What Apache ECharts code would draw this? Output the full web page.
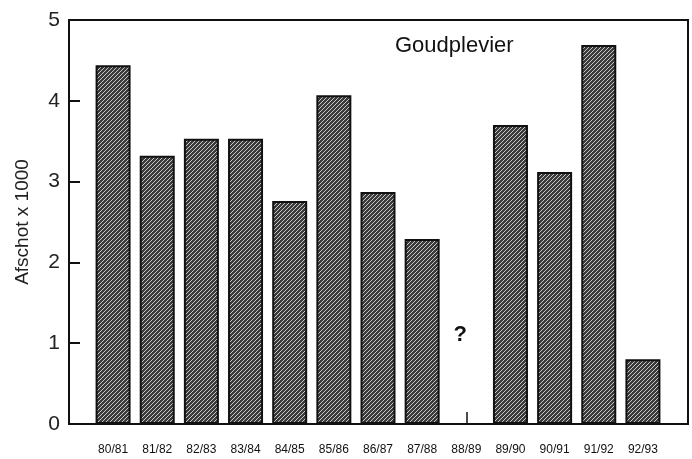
<!DOCTYPE html>
<html>
<head>
<meta charset="utf-8">
<script src="https://cdn.jsdelivr.net/npm/echarts@6/dist/echarts.min.js"></script>
<style>
  html, body { margin: 0; padding: 0; background: #fff; }
  #chart { width: 692px; height: 459px; }
</style>
</head>
<body>
<div id="chart"></div>
<script>
// seizoenen en afschot (x 1000), 88/89 onbekend
const seasons = ["80/81", "81/82", "82/83", "83/84", "84/85", "85/86", "86/87",
  "87/88", "88/89", "89/90", "90/91", "91/92", "92/93"];
const afschot = [4.44, 3.32, 3.53, 3.53, 2.76, 4.07, 2.87, 2.29, null, 3.70, 3.12, 4.69, 0.80];
const unknownSeason = ["88/89", 1.1, "?"];
const yTicks = [0, 1, 2, 3, 4, 5];

// gearceerd patroon voor de staven
function makeHatch() {
  const c = document.createElement("canvas");
  c.width = 4;
  c.height = 4;
  const ctx = c.getContext("2d");
  ctx.fillStyle = "#3a3a3a";
  ctx.fillRect(0, 0, 4, 4);
  ctx.strokeStyle = "#c8c8c8";
  ctx.lineWidth = 1;
  ctx.beginPath();
  ctx.moveTo(-1, 5);
  ctx.lineTo(5, -1);
  ctx.moveTo(-1, 1);
  ctx.lineTo(1, -1);
  ctx.moveTo(3, 5);
  ctx.lineTo(5, 3);
  ctx.stroke();
  return c;
}

const chart = echarts.init(document.getElementById("chart"));

const option = {
  animation: false,
  title: {
    text: "Goudplevier",
    left: 390,
    top: 30,
    textStyle: { fontFamily: "Liberation Sans", fontWeight: "normal", fontSize: 22, color: "#111" },
  },
  grid: [
    // kader
    { left: 69, top: 20, width: 619, height: 404, show: true, borderColor: "#111", borderWidth: 2 },
    // staven
    { left: 91, top: 20, width: 574, height: 404 },
  ],
  xAxis: [
    { gridIndex: 0, type: "value", show: false, min: 0, max: 1 },
    {
      gridIndex: 1,
      type: "category",
      data: seasons,
      axisLine: { show: false },
      axisTick: {
        show: true,
        inside: true,
        length: 12,
        alignWithLabel: true,
        interval: (i) => i === 8,
        lineStyle: { color: "#111", width: 1.5 },
      },
      axisLabel: {
        interval: 0,
        margin: 20,
        fontFamily: "Liberation Sans Narrow, Liberation Sans",
        fontSize: 12,
        color: "#111",
      },
    },
  ],
  yAxis: [
    {
      gridIndex: 0,
      type: "value",
      min: yTicks[0],
      max: yTicks[yTicks.length - 1],
      interval: 1,
      name: "Afschot x 1000",
      nameLocation: "middle",
      nameGap: 37,
      nameTextStyle: { fontFamily: "Liberation Sans", fontSize: 19, color: "#222" },
      axisLine: { show: false },
      axisTick: { show: true, inside: true, length: 11, lineStyle: { color: "#111", width: 2 } },
      splitLine: { show: false },
      axisLabel: { margin: 9, fontFamily: "Liberation Sans", fontSize: 21, color: "#222" },
    },
    { gridIndex: 1, type: "value", min: 0, max: 5, show: false },
  ],
  series: [
    {
      type: "bar",
      xAxisIndex: 1,
      yAxisIndex: 1,
      data: afschot,
      barWidth: 35,
      itemStyle: {
        color: { image: makeHatch(), repeat: "repeat" },
        borderColor: "#111",
        borderWidth: 2,
      },
    },
    {
      // vraagteken bij het ontbrekende seizoen
      type: "scatter",
      xAxisIndex: 1,
      yAxisIndex: 1,
      symbolSize: 0,
      itemStyle: { opacity: 1 },
      data: [unknownSeason],
      label: {
        show: true,
        position: "inside",
        offset: [-6, 0],
        formatter: (p) => p.data[2],
        fontFamily: "Liberation Sans",
        fontWeight: "bold",
        fontSize: 22,
        color: "#111",
      },
    },
  ],
};

chart.setOption(option);
</script>
</body>
</html>
